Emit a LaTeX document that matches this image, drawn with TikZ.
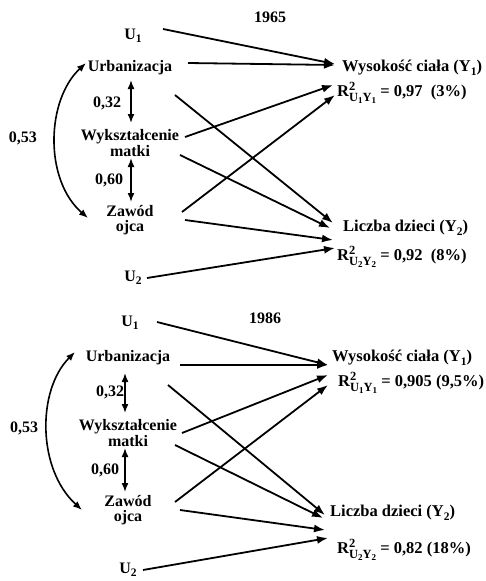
\documentclass[tikz,border=0pt]{standalone}
\usepackage{fontspec}
\setmainfont{Liberation Serif}
\usetikzlibrary{arrows.meta}
\newcommand\sub[1]{\raisebox{-3.5pt}{\fontsize{11.5}{11.5}\selectfont #1}}
\newcommand\ssub[1]{\raisebox{-2pt}{\fontsize{9}{9}\selectfont #1}}
\newcommand\Rsq[2]{R\rlap{\raisebox{6.5pt}{\fontsize{12.5}{12.5}\selectfont 2}}\raisebox{-5pt}{\fontsize{12.5}{12.5}\selectfont U\ssub{#1}Y\ssub{#2}}}
\newcommand\Yv[1]{Y\sub{#1}}
\newcommand\Uv[1]{U\sub{#1}}
\begin{document}
\begin{tikzpicture}[x=1pt,y=-1pt,
  lbl/.style={font=\bfseries\fontsize{16}{15}\selectfont, inner sep=1pt, align=center},
  rlbl/.style={lbl, font=\bfseries\fontsize{16.5}{15}\selectfont, anchor=west, inner sep=0pt},
  twoline/.style={lbl, font=\bfseries\fontsize{16}{13}\selectfont},
  arr/.style={-{Latex[length=11pt,width=8pt]}, line width=1.8pt},
  darr/.style={{Latex[length=9pt,width=7pt]}-{Latex[length=9pt,width=7pt]}, line width=1.6pt}]
\useasboundingbox (0,0) rectangle (485,581);
% ---------------- 1965 ----------------
\begin{scope}
\node[lbl] (yrA) at (270,17) {1965};
\node[lbl] (u1A) at (133,36) {\Uv1};
\node[lbl] (urbA) at (130,68) {Urbanizacja};
\node[twoline] (wykA) at (130,143) {Wykształcenie\\matki};
\node[lbl] (zawA) at (130,220) {Zawód\\ojca};
\node[lbl] (u2A) at (133,278) {\Uv2};
\node[rlbl] (y1A) at (342,68) {Wysokość ciała (\Yv1)};
\node[rlbl] (r1A) at (337,93) {\Rsq11 = 0,97 \ (3\%)};
\node[rlbl] (y2A) at (343,228) {Liczba dzieci (\Yv2)};
\node[rlbl] (r2A) at (337,257) {\Rsq22 = 0,92 \ (8\%)};
\node[lbl] (k32A) at (107,103) {0,32};
\node[lbl] (k60A) at (109,180) {0,60};
\node[lbl] (k53A) at (23,138) {0,53};
\draw[arr] ([shift={(30,-7)}]u1A.center) -- ([shift={(-7,-4)}]y1A.west);
\draw[arr] ([shift={(58,-5)}]urbA.center) -- ([shift={(-7,-3)}]y1A.west);
\draw[arr] ([shift={(55,-6)}]wykA.center) -- ([shift={(-4,-8)}]r1A.west);
\draw[arr] ([shift={(52,-8)}]zawA.center) -- ([shift={(-2,2)}]r1A.west);
\draw[arr] ([shift={(45,27)}]urbA.center) -- ([shift={(-10,-5)}]y2A.west);
\draw[arr] ([shift={(50,12)}]wykA.center) -- ([shift={(-13,0)}]y2A.west);
\draw[arr] ([shift={(55,0)}]zawA.center) -- ([shift={(-10,12)}]y2A.west);
\draw[arr] ([shift={(14,0)}]u2A.center) -- ([shift={(-2,-9)}]r2A.west);
\draw[darr] ([shift={(1,12)}]urbA.center) -- ([shift={(1,-20)}]wykA.center);
\draw[darr] ([shift={(1,15)}]wykA.center) -- ([shift={(1,-18)}]zawA.center);
\draw[darr] ([shift={(-44,-5)}]urbA.center) .. controls (46,100) and (44,180) .. ([shift={(-42,-2)}]zawA.center);
\end{scope}
% ---------------- 1986 ----------------
\begin{scope}[shift={(0,290)}]
\node[lbl] (yrB) at (265,28) {1986};
\node[lbl] (u1B) at (130,33) {\Uv1};
\node[lbl] (urbB) at (128,68) {Urbanizacja};
\node[twoline] (wykB) at (128,143) {Wykształcenie\\matki};
\node[lbl] (zawB) at (128,220) {Zawód\\ojca};
\node[lbl] (u2B) at (128,280) {\Uv2};
\node[rlbl] (y1B) at (332,68) {Wysokość ciała (\Yv1)};
\node[rlbl] (r1B) at (338,93) {\Rsq11 = 0,905 (9,5\%)};
\node[rlbl] (y2B) at (330,223) {Liczba dzieci (\Yv2)};
\node[rlbl] (r2B) at (337,260) {\Rsq22 = 0,82 (18\%)};
\node[lbl] (k32B) at (110,102) {0,32};
\node[lbl] (k60B) at (105,180) {0,60};
\node[lbl] (k53B) at (24,138) {0,53};
\draw[arr] ([shift={(27,-1)}]u1B.center) -- ([shift={(-4,7)}]y1B.west);
\draw[arr] ([shift={(52,7)}]urbB.center) -- ([shift={(-4,7)}]y1B.west);
\draw[arr] ([shift={(54,0)}]wykB.center) -- ([shift={(-10,-8)}]r1B.west);
\draw[arr] ([shift={(47,-8)}]zawB.center) -- ([shift={(-10,2)}]r1B.west);
\draw[arr] ([shift={(40,27)}]urbB.center) -- ([shift={(-5,2)}]y2B.west);
\draw[arr] ([shift={(47,12)}]wykB.center) -- ([shift={(-7,5)}]y2B.west);
\draw[arr] ([shift={(52,0)}]zawB.center) -- ([shift={(-5,17)}]y2B.west);
\draw[arr] ([shift={(15,0)}]u2B.center) -- ([shift={(-9,-12)}]r2B.west);
\draw[darr] ([shift={(-3,15)}]urbB.center) -- ([shift={(-3,-20)}]wykB.center);
\draw[darr] ([shift={(-3,15)}]wykB.center) -- ([shift={(-3,-18)}]zawB.center);
\draw[darr] ([shift={(-53,-6)}]urbB.center) .. controls (37,100) and (37,179) .. ([shift={(-46,0)}]zawB.center);
\end{scope}
\end{tikzpicture}
\end{document}
